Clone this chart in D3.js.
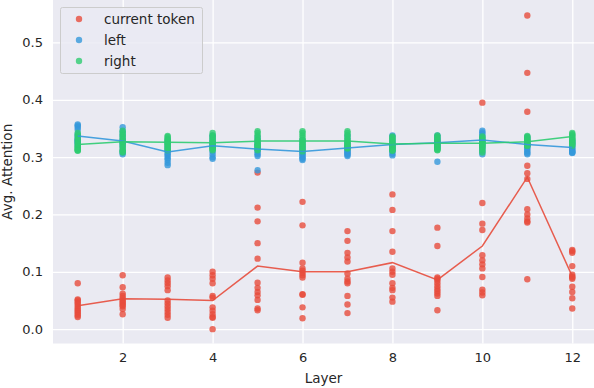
<!DOCTYPE html>
<html>
<head>
<meta charset="utf-8">
<script src="https://cdn.jsdelivr.net/npm/d3@7"></script>
<style>
  body { margin: 0; background: #fff; }
  svg { display: block; font-family: "DejaVu Sans", sans-serif; }
</style>
</head>
<body>
<svg id="chart" width="594" height="388"></svg>
<script>
// layers 1..12, one value per attention head
var layers = [1, 2, 3, 4, 5, 6, 7, 8, 9, 10, 11, 12];
var xTicks = [2, 4, 6, 8, 10, 12];
var yTicks = [0.0, 0.1, 0.2, 0.3, 0.4, 0.5];

var currentToken = [
    [0.080, 0.052, 0.050, 0.047, 0.044, 0.040, 0.036, 0.033, 0.030, 0.027, 0.024, 0.021],
    [0.094, 0.073, 0.062, 0.058, 0.054, 0.050, 0.048, 0.045, 0.042, 0.040, 0.035, 0.026],
    [0.090, 0.085, 0.080, 0.075, 0.068, 0.050, 0.045, 0.040, 0.035, 0.030, 0.025, 0.020],
    [0.100, 0.094, 0.088, 0.080, 0.058, 0.055, 0.038, 0.032, 0.026, 0.021, 0.020, 0.000],
    [0.273, 0.212, 0.188, 0.150, 0.123, 0.081, 0.072, 0.065, 0.059, 0.051, 0.036, 0.033],
    [0.222, 0.181, 0.116, 0.106, 0.102, 0.098, 0.094, 0.090, 0.061, 0.060, 0.038, 0.019],
    [0.171, 0.154, 0.133, 0.125, 0.118, 0.097, 0.088, 0.083, 0.080, 0.058, 0.043, 0.028],
    [0.235, 0.208, 0.171, 0.135, 0.106, 0.100, 0.095, 0.080, 0.072, 0.068, 0.055, 0.048],
    [0.177, 0.145, 0.090, 0.088, 0.085, 0.080, 0.075, 0.070, 0.066, 0.062, 0.058, 0.033],
    [0.395, 0.220, 0.184, 0.173, 0.129, 0.120, 0.113, 0.106, 0.091, 0.069, 0.064, 0.059],
    [0.547, 0.447, 0.379, 0.285, 0.272, 0.262, 0.209, 0.200, 0.193, 0.188, 0.186, 0.087],
    [0.138, 0.136, 0.133, 0.110, 0.095, 0.092, 0.090, 0.088, 0.074, 0.065, 0.054, 0.036]
];
var left = [
    [0.357, 0.355, 0.352, 0.348, 0.340, 0.336, 0.332, 0.330, 0.328, 0.326, 0.324, 0.320],
    [0.352, 0.345, 0.340, 0.335, 0.330, 0.328, 0.325, 0.322, 0.318, 0.312, 0.308, 0.305],
    [0.330, 0.325, 0.320, 0.316, 0.312, 0.308, 0.305, 0.302, 0.298, 0.295, 0.290, 0.286],
    [0.338, 0.335, 0.330, 0.327, 0.324, 0.322, 0.318, 0.315, 0.310, 0.305, 0.300, 0.297],
    [0.335, 0.330, 0.325, 0.322, 0.320, 0.318, 0.315, 0.312, 0.308, 0.305, 0.302, 0.277],
    [0.330, 0.325, 0.320, 0.317, 0.314, 0.310, 0.307, 0.305, 0.302, 0.300, 0.297, 0.295],
    [0.338, 0.332, 0.326, 0.322, 0.318, 0.315, 0.312, 0.310, 0.308, 0.306, 0.304, 0.302],
    [0.338, 0.335, 0.330, 0.326, 0.323, 0.320, 0.318, 0.315, 0.312, 0.310, 0.306, 0.303],
    [0.338, 0.335, 0.332, 0.330, 0.328, 0.326, 0.324, 0.322, 0.320, 0.318, 0.316, 0.292],
    [0.346, 0.343, 0.340, 0.336, 0.332, 0.328, 0.325, 0.322, 0.318, 0.314, 0.310, 0.305],
    [0.335, 0.332, 0.328, 0.325, 0.322, 0.320, 0.318, 0.316, 0.313, 0.310, 0.307, 0.305],
    [0.330, 0.327, 0.324, 0.321, 0.318, 0.316, 0.314, 0.312, 0.310, 0.309, 0.308, 0.307]
];
var right = [
    [0.342, 0.338, 0.334, 0.330, 0.326, 0.322, 0.319, 0.317, 0.315, 0.313, 0.312, 0.311],
    [0.346, 0.342, 0.338, 0.334, 0.330, 0.327, 0.324, 0.320, 0.316, 0.312, 0.310, 0.308],
    [0.337, 0.335, 0.332, 0.330, 0.328, 0.326, 0.324, 0.322, 0.320, 0.317, 0.314, 0.312],
    [0.342, 0.338, 0.335, 0.332, 0.329, 0.326, 0.323, 0.320, 0.318, 0.316, 0.314, 0.312],
    [0.345, 0.342, 0.338, 0.334, 0.330, 0.328, 0.325, 0.322, 0.320, 0.318, 0.315, 0.312],
    [0.345, 0.342, 0.338, 0.334, 0.330, 0.328, 0.325, 0.322, 0.320, 0.316, 0.313, 0.310],
    [0.345, 0.342, 0.338, 0.334, 0.330, 0.327, 0.325, 0.322, 0.320, 0.318, 0.316, 0.315],
    [0.336, 0.334, 0.331, 0.328, 0.325, 0.322, 0.320, 0.318, 0.316, 0.314, 0.312, 0.311],
    [0.338, 0.335, 0.332, 0.329, 0.326, 0.323, 0.320, 0.318, 0.316, 0.314, 0.313, 0.312],
    [0.336, 0.333, 0.330, 0.328, 0.326, 0.324, 0.322, 0.320, 0.318, 0.316, 0.312, 0.308],
    [0.337, 0.335, 0.333, 0.331, 0.329, 0.327, 0.325, 0.323, 0.322, 0.321, 0.320, 0.320],
    [0.342, 0.340, 0.338, 0.336, 0.334, 0.332, 0.330, 0.328, 0.326, 0.324, 0.322, 0.320]
];
// per-layer averages (the lines)
var currentMean = [0.041, 0.053, 0.052, 0.050, 0.110, 0.100, 0.100, 0.116, 0.086, 0.145, 0.265, 0.092];
var leftMean = [0.337, 0.328, 0.309, 0.320, 0.314, 0.310, 0.316, 0.322, 0.325, 0.330, 0.322, 0.317];
var rightMean = [0.322, 0.327, 0.326, 0.325, 0.328, 0.328, 0.328, 0.323, 0.324, 0.324, 0.327, 0.336];

var series = [
    {name: "current token", color: "#e74c3c", heads: currentToken, mean: currentMean},
    {name: "left", color: "#3498db", heads: left, mean: leftMean},
    {name: "right", color: "#2ecc71", heads: right, mean: rightMean}
];

var svg = d3.select("#chart");
var plot = {left: 53, top: 0, right: 597, bottom: 343.5};

var x = d3.scaleLinear().domain([0.45, 12.55]).range([plot.left, plot.right]);
var y = d3.scaleLinear().domain([-0.025, 0.574]).range([plot.bottom, plot.top]);

svg.append("rect")
    .attr("x", plot.left)
    .attr("y", plot.top)
    .attr("width", plot.right - plot.left)
    .attr("height", plot.bottom - plot.top)
    .attr("fill", "#eaeaf2");

// grid
svg.append("g")
    .attr("transform", "translate(0," + plot.bottom + ")")
    .call(d3.axisBottom(x).tickValues(xTicks).tickSize(-(plot.bottom - plot.top)).tickFormat(""))
    .call(function(g) {
        g.select(".domain").remove();
        g.selectAll("line").attr("stroke", "#fff").attr("stroke-width", 1.3);
    });
svg.append("g")
    .attr("transform", "translate(" + plot.left + ",0)")
    .call(d3.axisLeft(y).tickValues(yTicks).tickSize(-(plot.right - plot.left)).tickFormat(""))
    .call(function(g) {
        g.select(".domain").remove();
        g.selectAll("line").attr("stroke", "#fff").attr("stroke-width", 1.3);
    });

// tick labels
svg.append("g")
    .attr("transform", "translate(0," + plot.bottom + ")")
    .call(d3.axisBottom(x).tickValues(xTicks).tickSize(0).tickPadding(9).tickFormat(d3.format("d")))
    .call(function(g) {
        g.select(".domain").remove();
        g.selectAll("text").attr("fill", "#262626").style("font-size", "13px")
            .style("font-family", "DejaVu Sans");
    });
svg.append("g")
    .attr("transform", "translate(" + plot.left + ",0)")
    .call(d3.axisLeft(y).tickValues(yTicks).tickSize(0).tickPadding(10).tickFormat(d3.format(".1f")))
    .call(function(g) {
        g.select(".domain").remove();
        g.selectAll("text").attr("fill", "#262626").style("font-size", "13px")
            .style("font-family", "DejaVu Sans");
    });

svg.append("text")
    .attr("x", (plot.left + 594) / 2)
    .attr("y", 383)
    .attr("text-anchor", "middle")
    .attr("fill", "#262626")
    .style("font-size", "13.5px")
    .text("Layer");
svg.append("text")
    .attr("transform", "translate(12," + (plot.top + plot.bottom) / 2 + ") rotate(-90)")
    .attr("text-anchor", "middle")
    .attr("fill", "#262626")
    .style("font-size", "13.5px")
    .text("Avg. Attention");

// points
series.forEach(function(s) {
    var pts = [];
    s.heads.forEach(function(vals, i) {
        vals.forEach(function(v) { pts.push([layers[i], v]); });
    });
    svg.append("g").selectAll("circle")
        .data(pts)
        .enter().append("circle")
        .attr("cx", function(d) { return x(d[0]); })
        .attr("cy", function(d) { return y(d[1]); })
        .attr("r", 3.2)
        .attr("fill", s.color)
        .attr("fill-opacity", 0.8);
});

// mean lines
var line = d3.line()
    .x(function(d, i) { return x(layers[i]); })
    .y(function(d) { return y(d); });
series.forEach(function(s) {
    svg.append("path")
        .attr("d", line(s.mean))
        .attr("fill", "none")
        .attr("stroke", s.color)
        .attr("stroke-width", 1.5)
        .attr("stroke-opacity", 0.9);
});

// legend
var legend = svg.append("g");
legend.append("rect")
    .attr("x", 60.5)
    .attr("y", 7.5)
    .attr("width", 142)
    .attr("height", 66)
    .attr("rx", 2)
    .attr("fill", "#eaeaf2")
    .attr("fill-opacity", 0.8)
    .attr("stroke", "#cccccc")
    .attr("stroke-width", 1);
series.forEach(function(s, i) {
    var ly = 19 + i * 21;
    legend.append("circle")
        .attr("cx", 79)
        .attr("cy", ly)
        .attr("r", 3.2)
        .attr("fill", s.color)
        .attr("fill-opacity", 0.8);
    legend.append("text")
        .attr("x", 104)
        .attr("y", ly)
        .attr("dy", "0.35em")
        .attr("fill", "#262626")
        .style("font-size", "13.5px")
        .text(s.name);
});
</script>
</body>
</html>
